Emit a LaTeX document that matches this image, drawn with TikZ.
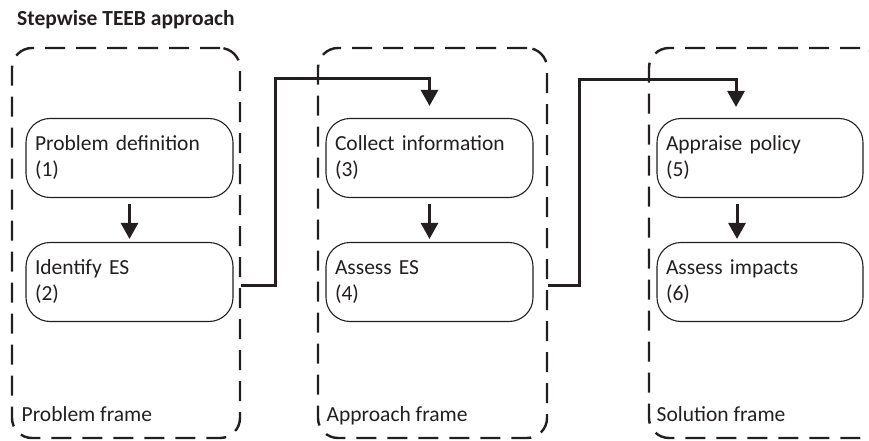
\documentclass[tikz,border=0pt]{standalone}
\usepackage{fontspec}
\setmainfont{Carlito}
\usetikzlibrary{arrows.meta}
\definecolor{ink}{HTML}{231F20}
\begin{document}
\begin{tikzpicture}[x=1pt,y=-1pt,
  frame/.style={draw=ink, line width=2.4pt, dash pattern=on 20pt off 11pt, rounded corners=20pt, inner sep=0pt},
  stepbox/.style={draw=ink, line width=1.1pt, rounded corners=24pt, minimum width=207pt, minimum height=79pt,
    text width=189pt, inner xsep=9pt, align=left, text=ink, font=\fontsize{21.5}{26}\selectfont},
  flabel/.style={anchor=base west, inner sep=0pt, text=ink, font=\fontsize{21.5}{26}\selectfont},
  conn/.style={draw=ink, line width=3pt, -{Triangle[length=16pt,width=17pt]}}]
\useasboundingbox (0,0) rectangle (869,441);
\clip (0,0) rectangle (869,441);
\node[anchor=base west, inner sep=0pt, text=ink, font=\fontsize{21.5}{26}\selectfont\bfseries] (title) at (17,26) {Stepwise TEEB approach};
% frames
\node[frame, minimum width=228pt, minimum height=390pt] (f1) at (126,243) {};
\node[frame, minimum width=229pt, minimum height=390pt] (f2) at (432.5,243) {};
\node[frame, minimum width=231pt, minimum height=390pt] (f3) at (764.5,243) {};
% boxes
\node[stepbox] (b1) at (129.5,158) {Problem definition\\(1)};
\node[stepbox] (b2) at (129.5,282) {Identify ES\\(2)};
\node[stepbox] (b3) at (429.5,158) {Collect information\\(3)};
\node[stepbox] (b4) at (429.5,282) {Assess ES\\(4)};
\node[stepbox, minimum width=206pt, text width=188pt] (b5) at (760,158) {Appraise policy\\(5)};
\node[stepbox, minimum width=206pt, text width=188pt] (b6) at (760,282) {Assess impacts\\(6)};
% frame labels
\node[flabel] (l1) at (21.5,421.5) {Problem frame};
\node[flabel] (l2) at (326.5,421.5) {Approach frame};
\node[flabel] (l3) at (656.5,421.5) {Solution frame};
% arrows inside frames
\draw[conn] ([yshift=-6pt]b1.south) -- ([yshift=3pt]b2.north);
\draw[conn] ([yshift=-6pt]b3.south) -- ([yshift=3pt]b4.north);
\draw[conn] ([xshift=-23pt,yshift=-6pt]b5.south) -- ([xshift=-23pt,yshift=3pt]b6.north);
% connectors between frames
\coordinate (c1) at (275,79);
\coordinate (c2) at (579,80);
\draw[conn] ([yshift=-3pt]b2.east -| f1.east) -| (c1) -| ([yshift=12pt]b3.north);
\draw[conn] ([yshift=-3pt]b4.east -| f2.east) -| (c2) -| ([xshift=-24pt,yshift=11pt]b5.north);
\end{tikzpicture}
\end{document}
